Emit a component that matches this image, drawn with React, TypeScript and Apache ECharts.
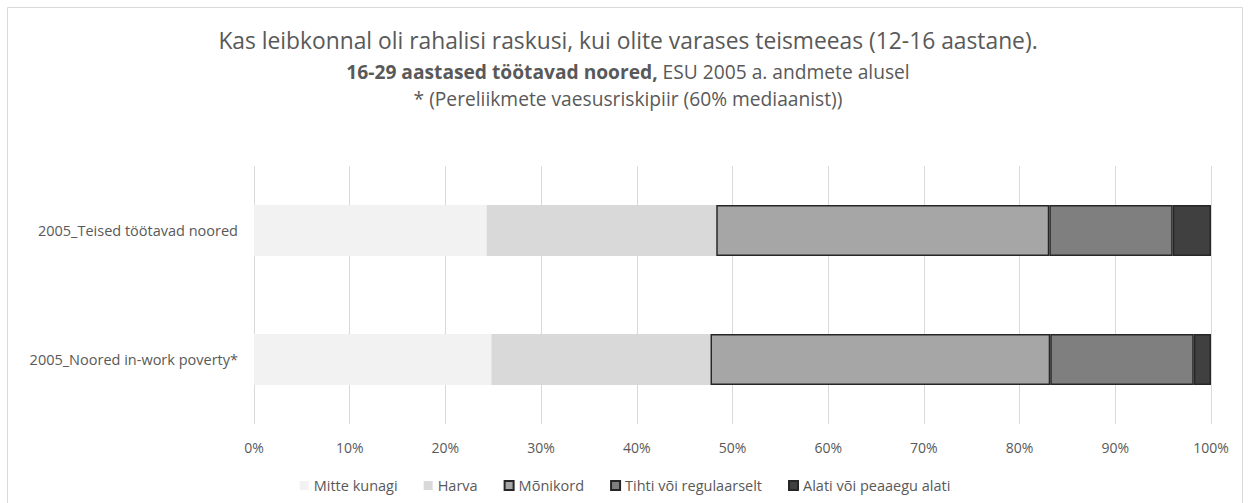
import React, { useEffect, useRef } from "react";
import * as echarts from "echarts";

const categories = ["2005_Noored in-work poverty*", "2005_Teised töötavad noored"];
const seriesNames = ["Mitte kunagi", "Harva", "Mõnikord", "Tihti või regulaarselt", "Alati või peaaegu alati"];
const mitteKunagi = [24.8, 24.3];
const harva = [22.9, 24.0];
const monikord = [35.5, 34.8];
const tihti = [15.0, 12.9];
const alati = [1.8, 4.0];
const xTicks = [0, 10, 20, 30, 40, 50, 60, 70, 80, 90, 100];

const titleLine1 = "Kas leibkonnal oli rahalisi raskusi, kui olite varases teismeeas (12-16 aastane).";
const titleLine2Bold = "16-29 aastased töötavad noored,";
const titleLine2Rest = " ESU 2005 a. andmete alusel";
const titleLine3 = "* (Pereliikmete vaesusriskipiir (60% mediaanist))";

const colors = ["#f2f2f2", "#d9d9d9", "#a6a6a6", "#7f7f7f", "#404040"];
const bordered = [false, false, true, true, true];

export default function App() {
  const ref = useRef<HTMLDivElement>(null);
  useEffect(() => {
    if (!ref.current) return;
    const chart = echarts.init(ref.current, undefined, { renderer: "svg" });
    const values = [mitteKunagi, harva, monikord, tihti, alati];
    const font = "'Open Sans', 'Noto Sans', sans-serif";
    const txt = "#595959";
    chart.setOption({
      animation: false,
      textStyle: { fontFamily: font },
      graphic: [
        {
          type: "rect",
          shape: { x: 7.5, y: 7.5, width: 1235, height: 500 },
          style: { fill: "none", stroke: "#d9d9d9", lineWidth: 1 },
          silent: true,
        },
        {
          type: "text",
          x: 628,
          y: 40,
          style: {
            text: titleLine1,
            fontSize: 22.8,
            fontFamily: font,
            fill: txt,
            align: "center",
            verticalAlign: "middle",
          },
        },
        {
          type: "text",
          x: 628,
          y: 71,
          style: {
            text: "{b|" + titleLine2Bold + "}{n|" + titleLine2Rest + "}",
            align: "center",
            verticalAlign: "middle",
            rich: {
              b: { fontSize: 19.2, fontWeight: "bold", fill: txt, fontFamily: font },
              n: { fontSize: 19.2, fontWeight: "normal", fill: txt, fontFamily: font },
            },
          },
        },
        {
          type: "text",
          x: 628,
          y: 98,
          style: {
            text: titleLine3,
            fontSize: 19.2,
            fontFamily: font,
            fill: txt,
            align: "center",
            verticalAlign: "middle",
          },
        },
      ],
      legend: {
        top: 473,
        left: "center",
        itemWidth: 9,
        itemHeight: 9,
        itemGap: 26,
        icon: "rect",
        textStyle: { fontSize: 14.5, color: txt, fontFamily: font },
        data: seriesNames,
      },
      grid: { left: 254, right: 39, top: 166, bottom: 79, containLabel: false },
      xAxis: {
        type: "value",
        min: 0,
        max: 100,
        interval: 10,
        axisLine: { show: false },
        axisTick: { show: false },
        splitLine: { show: true, lineStyle: { color: "#d9d9d9", width: 1 } },
        axisLabel: {
          color: txt,
          fontSize: 14,
          margin: 16,
          formatter: (v: number) => (xTicks.includes(v) ? v + "%" : ""),
        },
      },
      yAxis: {
        type: "category",
        data: categories,
        axisLine: { show: false },
        axisTick: { show: false },
        axisLabel: { color: txt, fontSize: 14.5, margin: 16 },
      },
      series: seriesNames.map((name, i) => ({
        name,
        type: "bar",
        stack: "total",
        barWidth: 51,
        data: values[i],
        itemStyle: {
          color: colors[i],
          borderColor: bordered[i] ? "#262626" : colors[i],
          borderWidth: bordered[i] ? 1.5 : 0,
        },
      })),
    });
    return () => chart.dispose();
  }, []);
  return (
    <div
      ref={ref}
      style={{ position: "fixed", left: 0, top: 0, width: 1250, height: 503, background: "#fff" }}
    />
  );
}
